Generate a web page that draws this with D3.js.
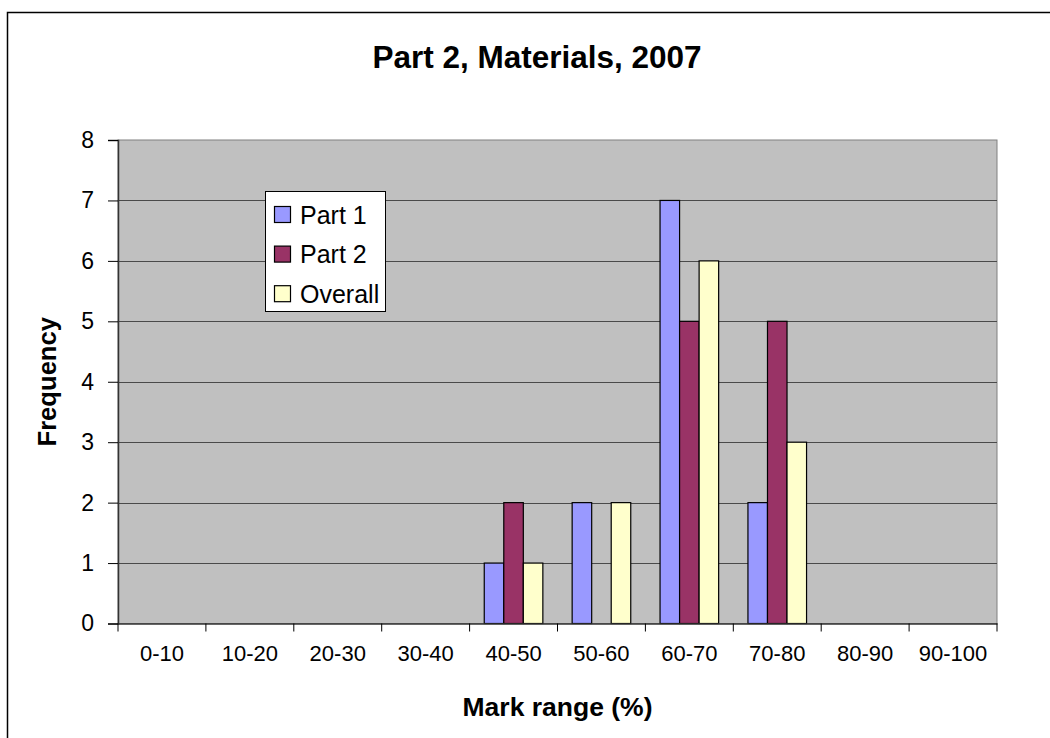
<!DOCTYPE html>
<html>
<head>
<meta charset="utf-8">
<script src="https://cdn.jsdelivr.net/npm/d3@7"></script>
<style>
  html, body { margin: 0; padding: 0; background: #fff; }
  svg { display: block; font-family: "Liberation Sans", Arial, Helvetica, sans-serif; }
</style>
</head>
<body>
<svg id="chart" width="1050" height="738"></svg>
<script>
// Mark ranges and frequencies per part
const categories = ["0-10", "10-20", "20-30", "30-40", "40-50", "50-60", "60-70", "70-80", "80-90", "90-100"];
const seriesNames = ["Part 1", "Part 2", "Overall"];
const part1 = [0, 0, 0, 0, 1, 2, 7, 2, 0, 0];
const part2 = [0, 0, 0, 0, 2, 0, 5, 5, 0, 0];
const overall = [0, 0, 0, 0, 1, 2, 6, 3, 0, 0];
const yTicks = [0, 1, 2, 3, 4, 5, 6, 7, 8];

const seriesValues = [part1, part2, overall];
const colors = ["#9999FF", "#993366", "#FFFFCC"];

const svg = d3.select("#chart");

// Chart frame (extends past the right and bottom edges)
svg.append("rect")
  .attr("x", 7.5).attr("y", 12.5)
  .attr("width", 1060).attr("height", 760)
  .attr("fill", "#fff").attr("stroke", "#000").attr("stroke-width", 1.5);

const plot = { left: 118, right: 997, top: 140, bottom: 623.5 };

const x = d3.scaleBand().domain(categories).range([plot.left, plot.right]).padding(0);
const y = d3.scaleLinear().domain([0, 8]).range([plot.bottom, plot.top]);

// Bars are one 4.5th of a category wide (150% gap)
const barW = x.bandwidth() / 4.5;
const xs = d3.scaleBand().domain(seriesNames).range([barW * 0.75, barW * 3.75]).padding(0);

// Plot background
svg.append("rect")
  .attr("x", plot.left).attr("y", plot.top)
  .attr("width", plot.right - plot.left).attr("height", plot.bottom - plot.top)
  .attr("fill", "#C0C0C0").attr("stroke", "#808080").attr("stroke-width", 1);

// Horizontal gridlines
svg.append("g")
  .selectAll("line")
  .data(yTicks.filter(t => t > 0 && t < 8))
  .join("line")
  .attr("x1", plot.left).attr("x2", plot.right)
  .attr("y1", d => Math.round(y(d)) + 0.5).attr("y2", d => Math.round(y(d)) + 0.5)
  .attr("stroke", "#4a4a4a").attr("stroke-width", 1);

// Bars
const rows = [];
categories.forEach((c, i) => {
  seriesNames.forEach((s, j) => {
    rows.push({ cat: c, series: s, value: seriesValues[j][i], color: colors[j] });
  });
});

svg.append("g")
  .selectAll("rect")
  .data(rows.filter(d => d.value > 0))
  .join("rect")
  .attr("x", d => x(d.cat) + xs(d.series))
  .attr("y", d => y(d.value))
  .attr("width", xs.bandwidth())
  .attr("height", d => y(0) - y(d.value))
  .attr("fill", d => d.color)
  .attr("stroke", "#000").attr("stroke-width", 1.2);

// Y axis
const yAxis = d3.axisLeft(y).tickValues(yTicks).tickSize(10).tickPadding(14).tickFormat(d3.format("d"));
const gy = svg.append("g").attr("transform", `translate(${plot.left},0)`).call(yAxis);
gy.select(".domain").attr("stroke", "#333").attr("stroke-width", 1.5);
gy.selectAll(".tick line").attr("stroke", "#000");
gy.selectAll(".tick text").attr("font-size", 23).attr("fill", "#000")
  .attr("font-family", "'Liberation Sans', Arial, sans-serif");

// X axis: ticks sit on category boundaries
const xAxis = d3.axisBottom(x).tickSize(0).tickPadding(22);
const gx = svg.append("g").attr("transform", `translate(0,${plot.bottom})`).call(xAxis);
gx.select(".domain").attr("stroke", "#333").attr("stroke-width", 1.5);
gx.selectAll(".tick text").attr("font-size", 22).attr("fill", "#000")
  .attr("font-family", "'Liberation Sans', Arial, sans-serif");

const boundaries = categories.map(c => x(c)).concat([x(categories[categories.length - 1]) + x.bandwidth()]);
svg.append("g")
  .selectAll("line")
  .data(boundaries)
  .join("line")
  .attr("x1", d => d).attr("x2", d => d)
  .attr("y1", plot.bottom).attr("y2", plot.bottom + 8)
  .attr("stroke", "#000").attr("stroke-width", 1);

// Title and axis titles
svg.append("text")
  .attr("x", 537).attr("y", 68)
  .attr("text-anchor", "middle")
  .attr("font-size", 31.5).attr("font-weight", "bold")
  .text("Part 2, Materials, 2007");

svg.append("text")
  .attr("x", (plot.left + plot.right) / 2).attr("y", 716)
  .attr("text-anchor", "middle")
  .attr("font-size", 26.5).attr("font-weight", "bold")
  .text("Mark range (%)");

svg.append("text")
  .attr("transform", `translate(56,${(plot.top + plot.bottom) / 2}) rotate(-90)`)
  .attr("text-anchor", "middle")
  .attr("font-size", 25.6).attr("font-weight", "bold")
  .text("Frequency");

// Legend
const legend = svg.append("g");
legend.append("rect")
  .attr("x", 265.5).attr("y", 191.5).attr("width", 120).attr("height", 120)
  .attr("fill", "#fff").attr("stroke", "#000").attr("stroke-width", 1);

const items = legend.selectAll("g.item")
  .data(seriesNames.map((s, i) => ({ name: s, color: colors[i] })))
  .join("g")
  .attr("class", "item")
  .attr("transform", (d, i) => `translate(0,${214.5 + i * 39.6})`);

items.append("rect")
  .attr("x", 274.5).attr("y", -8).attr("width", 16).attr("height", 16)
  .attr("fill", d => d.color).attr("stroke", "#000").attr("stroke-width", 1.2);

items.append("text")
  .attr("x", 300).attr("y", 9)
  .attr("font-size", 25).attr("fill", "#000")
  .text(d => d.name);
</script>
</body>
</html>
